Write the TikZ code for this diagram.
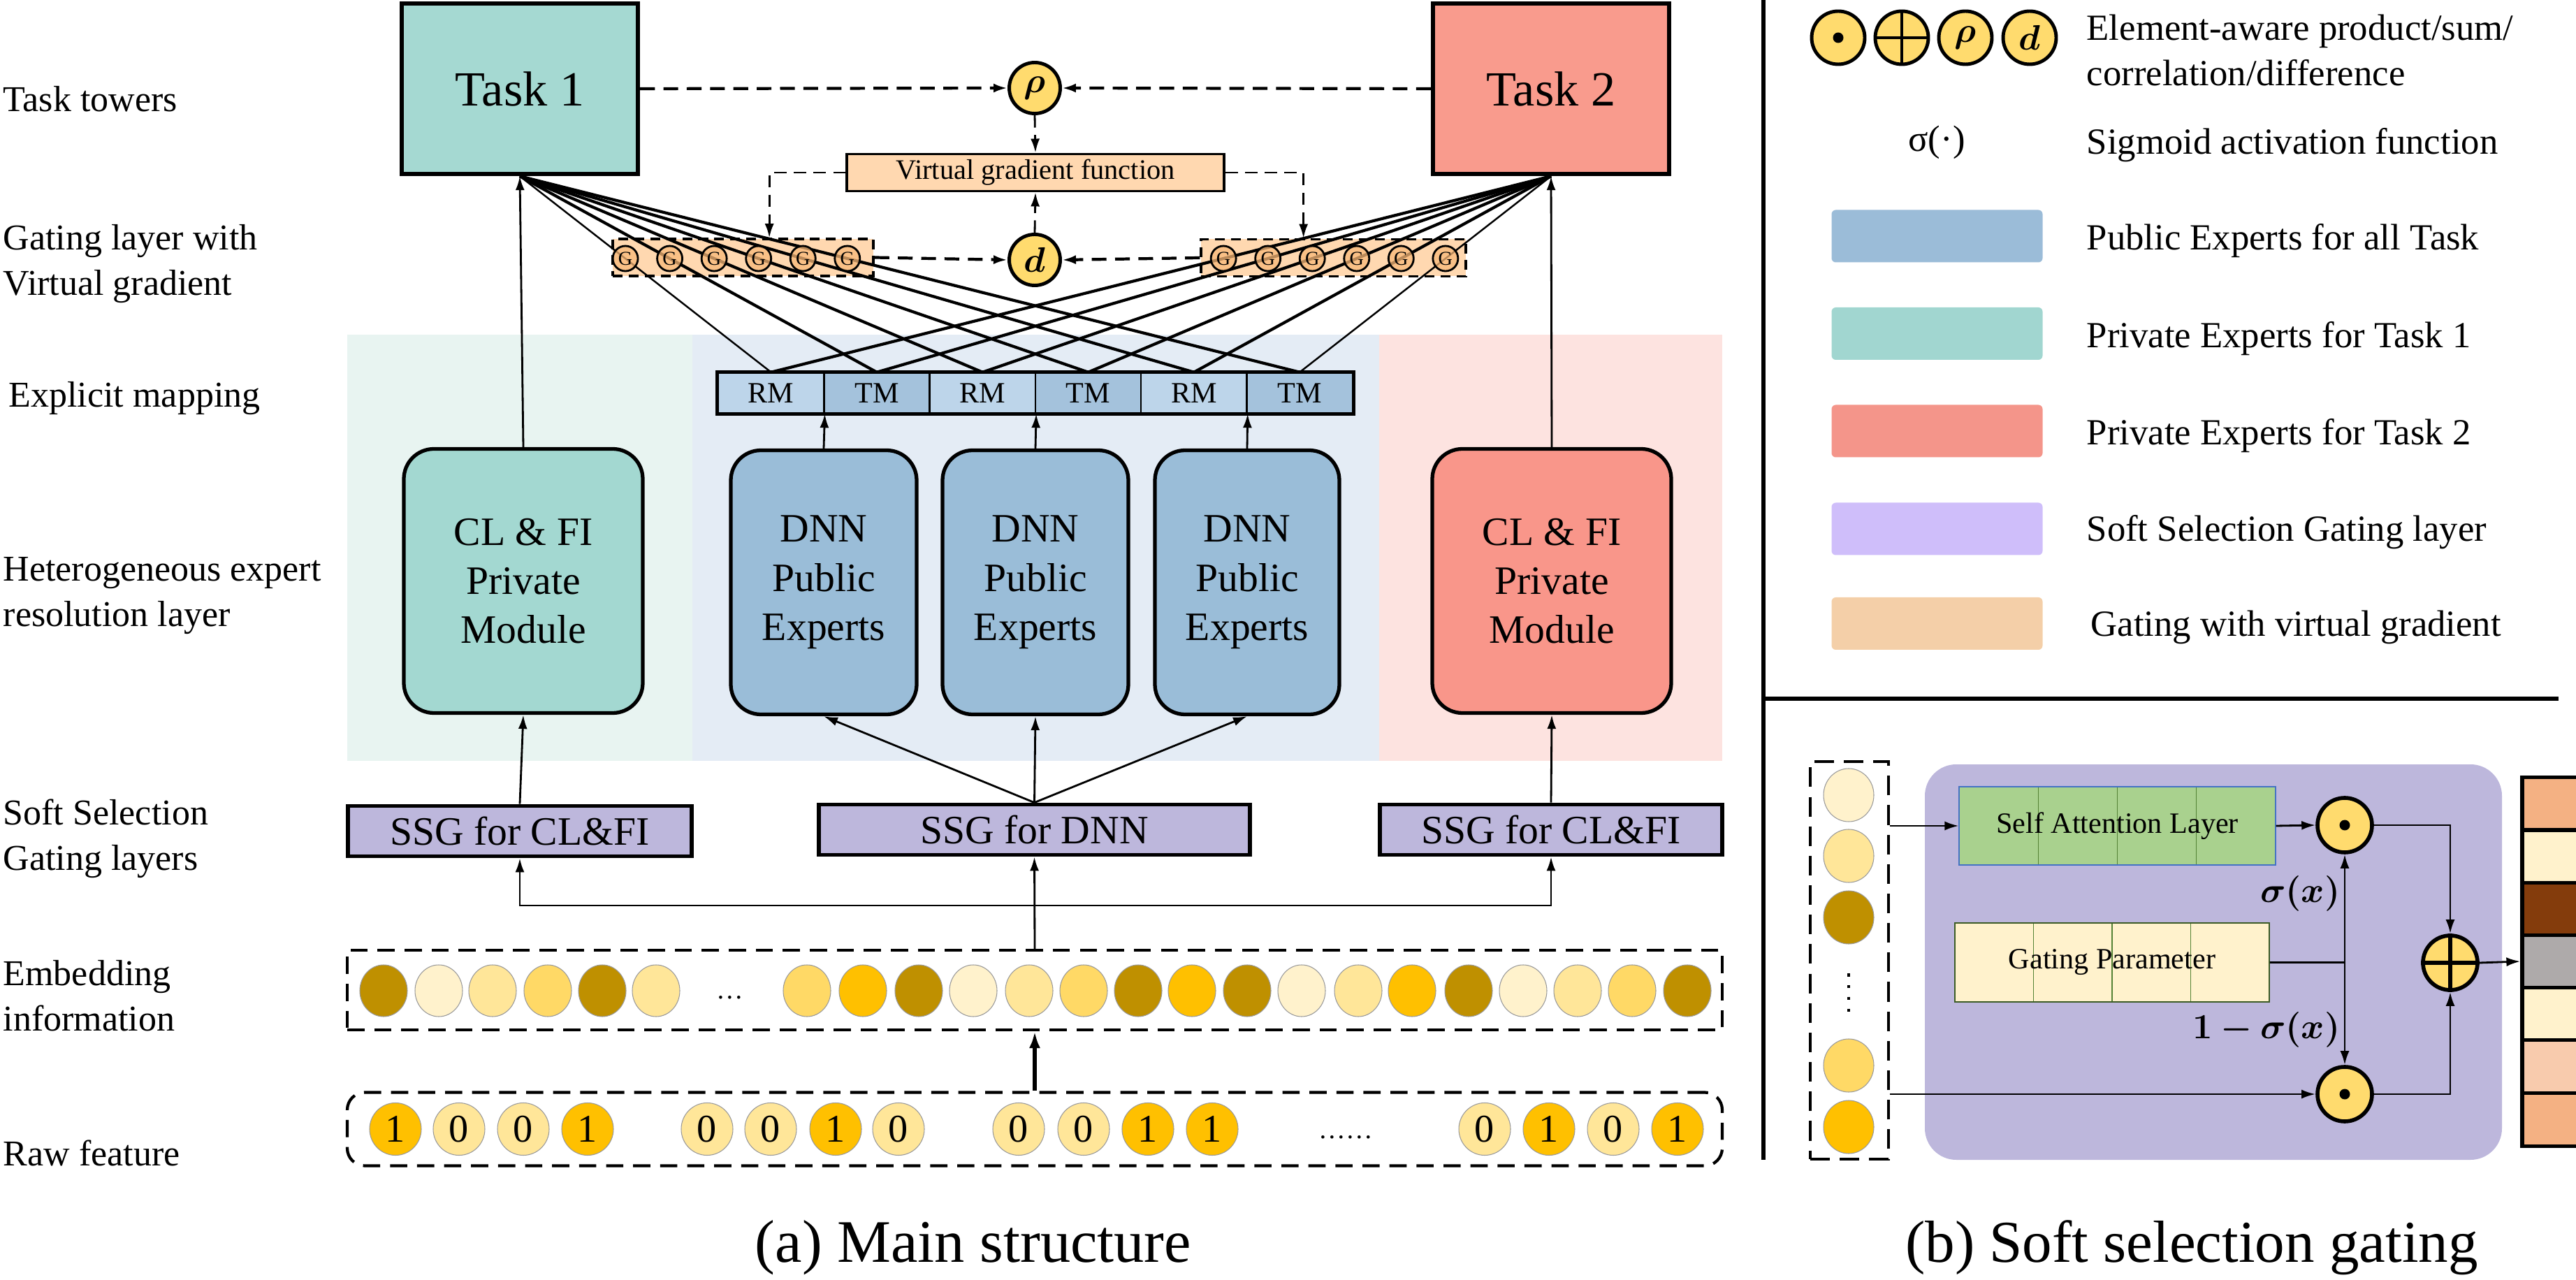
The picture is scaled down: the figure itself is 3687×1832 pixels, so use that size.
\documentclass[tikz,border=0pt]{standalone}
\usepackage{fontspec}
\setmainfont{Liberation Serif}
\usepackage{amsmath}
\usepackage{bm}
\usetikzlibrary{arrows.meta,calc,shapes.geometric}
\definecolor{taskA}{HTML}{A5D9D2}
\definecolor{taskB}{HTML}{F99B8D}
\definecolor{modA}{HTML}{A3D8D1}
\definecolor{modB}{HTML}{F9968A}
\definecolor{dnnC}{HTML}{9ABDD8}
\definecolor{ssgC}{HTML}{BDB7DC}
\definecolor{peach}{HTML}{FFD8B0}
\definecolor{gC}{HTML}{F8B878}
\definecolor{yel}{HTML}{FFDB6E}
\definecolor{bgA}{HTML}{E8F4F1}
\definecolor{bgM}{HTML}{E4ECF5}
\definecolor{bgB}{HTML}{FDE3E0}
\definecolor{rmC}{HTML}{BDD5EA}
\definecolor{tmC}{HTML}{A4C2DC}
\definecolor{eDk}{HTML}{BF9000}
\definecolor{eCr}{HTML}{FFF2CC}
\definecolor{eLt}{HTML}{FFE699}
\definecolor{eYl}{HTML}{FFD966}
\definecolor{eGd}{HTML}{FFC000}
\definecolor{lgPub}{HTML}{9BBCD8}
\definecolor{lgA}{HTML}{A1D6D0}
\definecolor{lgB}{HTML}{F4958A}
\definecolor{lgS}{HTML}{CFBEFA}
\definecolor{lgG}{HTML}{F4CFA8}
\definecolor{salC}{HTML}{A9D18E}
\definecolor{salB}{HTML}{4472C4}
\definecolor{divG}{HTML}{548235}
\definecolor{oA}{HTML}{F4B183}
\definecolor{oBr}{HTML}{843C0C}
\definecolor{oGr}{HTML}{AEAAAA}
\definecolor{oPk}{HTML}{F8CBAD}
\tikzset{
  lbl/.style={anchor=west, align=left, inner sep=0pt, font=\fontsize{14.8}{18.5}\selectfont},
  taskbox/.style={draw, line width=1.8pt, minimum width=33.8mm, minimum height=24.4mm, inner sep=0pt, font=\fontsize{20}{24}\selectfont},
  opc/.style={circle, draw, line width=1.4pt, fill=yel, minimum size=7.3mm, inner sep=0pt, font=\fontsize{15}{18}\selectfont},
  vgbox/.style={draw, line width=1.1pt, fill=peach, minimum width=54mm, minimum height=5.3mm, inner sep=0pt, font=\fontsize{11.5}{14}\selectfont},
  gatebox/.style={draw, line width=1pt, dash pattern=on 4pt off 2.5pt, fill=peach, inner sep=0pt, minimum height=5.3mm},
  gnode/.style={circle, draw, line width=0.8pt, fill=gC, fill opacity=0.75, text opacity=1, draw opacity=1, minimum size=3.6mm, inner sep=0pt, font=\fontsize{8}{8}\selectfont},
  cellbox/.style={draw, line width=0.7pt, minimum width=15.13mm, minimum height=5.7mm, inner sep=0pt, font=\fontsize{12}{14}\selectfont},
  module/.style={draw, line width=1.5pt, rounded corners=4.3mm, minimum height=37.8mm, inner sep=0pt, align=center, font=\fontsize{16.4}{20}\selectfont},
  ssgbox/.style={draw, line width=1.6pt, fill=ssgC, minimum height=7.2mm, inner sep=0pt, font=\fontsize{16.4}{20}\selectfont},
  emb/.style={ellipse, draw=black!40, line width=0.3pt, minimum width=6.8mm, minimum height=7.4mm, inner sep=0pt},
  rawc/.style={ellipse, draw=black!40, line width=0.3pt, minimum width=7.4mm, minimum height=7.5mm, inner sep=0pt, font=\fontsize{16}{18}\selectfont},
  dsh/.style={line width=1.2pt, dash pattern=on 6pt off 3.5pt},
  dshthin/.style={line width=0.8pt, dash pattern=on 5pt off 3pt},
  tip/.style={-{Latex[length=2mm,width=1.3mm]}},
  arr/.style={-{Latex[length=2mm,width=1.3mm]}, line width=0.8pt},
  swatch/.style={rounded corners=0.6mm, minimum width=30.2mm, minimum height=7.5mm, inner sep=0pt},
  lgtxt/.style={anchor=west, align=left, inner sep=0pt, font=\fontsize{15}{18.3}\selectfont},
  bop/.style={circle, draw, line width=1.6pt, fill=yel, minimum size=7.8mm, inner sep=0pt},
  divs/.style={path picture={\foreach \f in {0.25,0.5,0.75}
     \draw[divG, line width=0.3pt] ($(path picture bounding box.north west)!\f!(path picture bounding box.north east)$) -- ($(path picture bounding box.south west)!\f!(path picture bounding box.south east)$);}},
  ocell/.style={draw, line width=1.5pt, minimum width=9mm, minimum height=7.55mm, inner sep=0pt}
}
\begin{document}
\begin{tikzpicture}[x=0.1mm,y=-0.1mm]
\useasboundingbox (0,0) rectangle (3687,1832);

% ---------- backgrounds ----------
\fill[bgA] (497,479) rectangle (991,1089);
\fill[bgM] (991,479) rectangle (1974,1089);
\fill[bgB] (1974,479) rectangle (2465,1089);

% ---------- left labels ----------
\node[lbl] (l1) at (4,142) {Task towers};
\node[lbl] (l2) at (4,378) {Gating layer with\\Virtual gradient};
\node[lbl] (l3) at (12,570) {Explicit mapping};
\node[lbl] (l4) at (4,853) {Heterogeneous expert\\resolution layer};
\node[lbl] (l5) at (4,1200) {Soft Selection\\Gating layers};
\node[lbl] (l6) at (4,1425) {Embedding\\information};
\node[lbl] (l7) at (4,1650) {Raw feature};

% ---------- task towers ----------
\node[taskbox, fill=taskA] (T1) at (744,127) {Task 1};
\node[taskbox, fill=taskB] (T2) at (2220,127) {Task 2};
\node[opc] (rho) at (1481,126) {$\bm{\rho}$};
\node[opc] (dd) at (1481,372) {$\bm{d}$};
\node[vgbox] (vg) at (1482,247) {Virtual gradient function};
\node[gatebox, minimum width=37.3mm] (gL) at (1063.5,368.5) {};
\node[gatebox, minimum width=37.9mm] (gR) at (1908.5,369) {};

% ---------- explicit mapping cells ----------
\foreach \i/\t/\c in {1/RM/rmC,2/TM/tmC,3/RM/rmC,4/TM/tmC,5/RM/rmC,6/TM/tmC}
  \node[cellbox, fill=\c] (c\i) at ({1028+151.3*(\i-0.5)},562.5) {\t};
\draw[line width=1.4pt] (c1.north west) rectangle (c6.south east);

% ---------- modules ----------
\node[module, fill=modA, minimum width=34.2mm] (mL) at (749,831.5) {CL \& FI\\Private\\Module};
\node[module, fill=dnnC, minimum width=26.6mm] (n1) at (1179,833.5) {DNN\\Public\\Experts};
\node[module, fill=dnnC, minimum width=26.6mm] (n2) at (1482,833.5) {DNN\\Public\\Experts};
\node[module, fill=dnnC, minimum width=26.4mm] (n3) at (1785,833.5) {DNN\\Public\\Experts};
\node[module, fill=modB, minimum width=34.2mm] (mR) at (2221,831.5) {CL \& FI\\Private\\Module};

% ---------- SSG ----------
\node[ssgbox, minimum width=49.2mm] (sL) at (744,1189.5) {SSG for CL\&FI};
\node[ssgbox, minimum width=61.7mm] (sD) at (1480.5,1187.5) {SSG for DNN};
\node[ssgbox, minimum width=49.0mm] (sR) at (2220,1187.5) {SSG for CL\&FI};

% fan lines
\draw[line width=0.7pt] (c1.north) -- (T1.south);
\foreach \i in {2,...,6} \draw[line width=1.2pt] (c\i.north) -- (T1.south);
\foreach \i in {1,...,5} \draw[line width=1.2pt] (c\i.north) -- (T2.south);
\draw[line width=0.7pt] (c6.north) -- (T2.south);
% ---------- G nodes on fan lines ----------
\foreach \i in {1,...,6}{
  \node[gnode] (gl\i) at ($(T1.south)!0.42!(c\i.north)$) {G};
  \node[gnode] (gr\i) at ($(T2.south)!0.42!(c\i.north)$) {G};
}

% ---------- dashed connectors ----------
\draw[dsh, tip] (T1.east) -- (rho.west);
\draw[dsh, tip] (T2.west) -- (rho.east);
\draw[dsh, tip] (gL.east) -- (dd.west);
\draw[dsh, tip] (gR.west) -- (dd.east);
\draw[dshthin, tip] (rho.south) -- (vg.north);
\draw[dshthin, tip] (dd.north) -- (vg.south);
\draw[dshthin, tip] (vg.west) -| ($(gL.north west)!0.6!(gL.north east)$);
\draw[dshthin, tip] (vg.east) -| ($(gR.north west)!0.388!(gR.north east)$);

% ---------- solid arrows ----------
\draw[arr] (mL.north) -- (T1.south);
\draw[arr] (mR.north) -- (T2.south);
\draw[arr] (n1.north) -- (c1.south east);
\draw[arr] (n2.north) -- (c3.south east);
\draw[arr] (n3.north) -- (c5.south east);
\draw[arr] (sL.north) -- (mL.south);
\draw[arr] (sR.north) -- (mR.south);
\draw[arr] (sD.north) -- (n1.south);
\draw[arr] (sD.north) -- (n2.south);
\draw[arr] (sD.north) -- (n3.south);

% ---------- embedding ----------
\node[draw, line width=1.2pt, dash pattern=on 7pt off 4pt, minimum width=196.8mm, minimum height=11.4mm, inner sep=0pt] (embbox) at (1481,1417) {};
\foreach \x/\c [count=\i] in {549/eDk,628/eCr,705/eLt,784/eYl,862/eDk,939/eLt,1155/eYl,1235/eGd,1315/eDk,1393/eCr,1473/eLt,1551/eYl,1629/eDk,1706/eGd,1785/eDk,1863/eCr,1944/eLt,2021/eGd,2102/eDk,2180/eCr,2258/eLt,2336/eYl,2415/eDk}
  \node[emb, fill=\c] (e\i) at (\x,1418) {};
\node[font=\fontsize{11}{12}\selectfont, inner sep=0pt] (edots) at (1045,1428) {\dots};

\coordinate (br) at (1481,1296);
\draw[arr] (embbox.north) -- (sD.south);
\draw[arr] (br) -| (sL.south);
\draw[arr] (br) -| (sR.south);

% ---------- raw feature ----------
\node[draw, line width=1.2pt, dash pattern=on 7pt off 4pt, rounded corners=2.5mm, minimum width=196.8mm, minimum height=10.5mm, inner sep=0pt] (rawbox) at (1481,1616) {};
\foreach \x/\v/\c [count=\i] in {566/1/eGd,657/0/eLt,749/0/eLt,841/1/eGd,1012/0/eLt,1103/0/eLt,1196/1/eGd,1286/0/eLt,1458/0/eLt,1551/0/eLt,1643/1/eGd,1735/1/eGd,2125/0/eLt,2217/1/eGd,2309/0/eLt,2401/1/eGd}
  \node[rawc, fill=\c] (r\i) at (\x,1616) {\v};
\node[font=\fontsize{11}{12}\selectfont, inner sep=0pt] (rdots) at (1926,1628) {\dots\dots};
\draw[-{Latex[length=2.4mm,width=1.6mm]}, line width=1.5pt] (rawbox.north) -- (embbox.south);

% ---------- captions ----------
\node[font=\fontsize{24.6}{28}\selectfont, inner sep=0pt] (capA) at (1393,1786) {(a) Main structure};
\node[font=\fontsize{24.2}{28}\selectfont, inner sep=0pt] (capB) at (3137,1786) {(b) Soft selection gating};

% ---------- separators ----------
\coordinate (vt) at (2524,0);
\coordinate (vb) at (2524,1660);
\coordinate (hl) at (2524,1000);
\coordinate (hr) at (3662,1000);
\draw[line width=1.6pt] (vt) -- (vb);
\draw[line width=1.6pt] (hl) -- (hr);

% ---------- legend ----------
\node[opc, minimum size=7.6mm] (lgDot) at (2631,54) {};
\fill (lgDot.center) circle (0.75mm);
\node[opc, minimum size=7.6mm] (lgPlus) at (2722,54) {};
\draw[line width=1.4pt] (lgPlus.north) -- (lgPlus.south);
\draw[line width=1.4pt] (lgPlus.west) -- (lgPlus.east);
\node[opc, minimum size=7.6mm] (lgRho) at (2813,54) {$\bm{\rho}$};
\node[opc, minimum size=7.6mm] (lgD) at (2905,54) {$\bm{d}$};
\node[lgtxt] (t1) at (2986,72) {Element-aware product/sum/\\correlation/difference};
\node[font=\fontsize{15}{18}\selectfont, inner sep=0pt] (sig) at (2772,204) {σ(·)};
\node[lgtxt] (t2) at (2986,208) {Sigmoid activation function};
\node[swatch, fill=lgPub] (s1) at (2772.5,338) {};
\node[lgtxt] (t3) at (2986,345) {Public Experts for all Task};
\node[swatch, fill=lgA] (s2) at (2772.5,477.5) {};
\node[lgtxt] (t4) at (2986,485) {Private Experts for Task 1};
\node[swatch, fill=lgB] (s3) at (2772.5,617) {};
\node[lgtxt] (t5) at (2986,624) {Private Experts for Task 2};
\node[swatch, fill=lgS] (s4) at (2772.5,757) {};
\node[lgtxt] (t6) at (2986,762) {Soft Selection Gating layer};
\node[swatch, fill=lgG] (s5) at (2772.5,892.5) {};
\node[lgtxt] (t7) at (2992,898) {Gating with virtual gradient};

% ---------- panel (b) ----------
\node[fill=ssgC, rounded corners=4.5mm, minimum width=82.6mm, minimum height=56.6mm, inner sep=0pt] (pbox) at (3168,1377) {};
\node[draw, line width=1.3pt, dash pattern=on 8pt off 4pt, minimum width=11.2mm, minimum height=56.9mm, inner sep=0pt] (inbox) at (2647,1374.5) {};
\foreach \y/\c [count=\i] in {1138/eCr,1225/eLt,1313/eDk,1525/eYl,1613/eGd}
  \node[emb, fill=\c, minimum width=7.2mm, minimum height=7.6mm] (b\i) at (2646,\y) {};
\coordinate (vd1) at (2646,1393);
\coordinate (vd2) at (2646,1458);
\draw[line width=1.3pt, dash pattern=on 1.3pt off 3.5pt] (vd1) -- (vd2);

\node[fill=salC, draw=salB, line width=0.3pt, minimum width=45.3mm, minimum height=11.2mm, inner sep=0pt, divs, font=\fontsize{12}{14}\selectfont] (sal) at (3030.5,1182) {Self Attention Layer};
\node[fill=eCr, draw=divG!70!black, line width=0.3pt, minimum width=45mm, minimum height=11.3mm, inner sep=0pt, divs, font=\fontsize{12}{14}\selectfont] (gp) at (3023,1377.5) {Gating Parameter};

\node[bop] (mu) at (3356,1181) {};
\fill (mu.center) circle (0.75mm);
\node[bop] (ml) at (3356,1566) {};
\fill (ml.center) circle (0.75mm);
\node[bop] (pl) at (3507,1378) {};
\draw[line width=1.6pt] (pl.north) -- (pl.south);
\draw[line width=1.6pt] (pl.west) -- (pl.east);

\node[font=\fontsize{13.5}{15}\selectfont, inner sep=0pt, anchor=east] (sx) at (3350,1279) {$\bm{\sigma(x)}$};
\node[font=\fontsize{13.5}{15}\selectfont, inner sep=0pt, anchor=east] (osx) at (3350,1474) {$\bm{1-\sigma(x)}$};

\begin{scope}
\clip (3590,1090) rectangle (3687,1660);
\foreach \y/\c [count=\i] in {1150/oA,1226/eCr,1301/oBr,1376/oGr,1451.5/eCr,1526.5/oPk,1602.5/oA}
  \node[ocell, fill=\c] (o\i) at (3655,\y) {};
\end{scope}

\draw[arr] (inbox.east |- sal.west) -- (sal.west);
\draw[arr] (sal.east) -- (mu.west);
\draw[arr] (inbox.east |- ml.west) -- (ml.west);
\coordinate (jn) at (gp.east -| mu.south);
\draw[line width=0.8pt] (gp.east) -- (jn);
\draw[arr] (jn) -- (mu.south);
\draw[arr] (jn) -- (ml.north);
\draw[arr] (mu.east) -| (pl.north);
\draw[arr] (ml.east) -| (pl.south);
\draw[arr] (pl.east) -- (o4.west);
\end{tikzpicture}
\end{document}
